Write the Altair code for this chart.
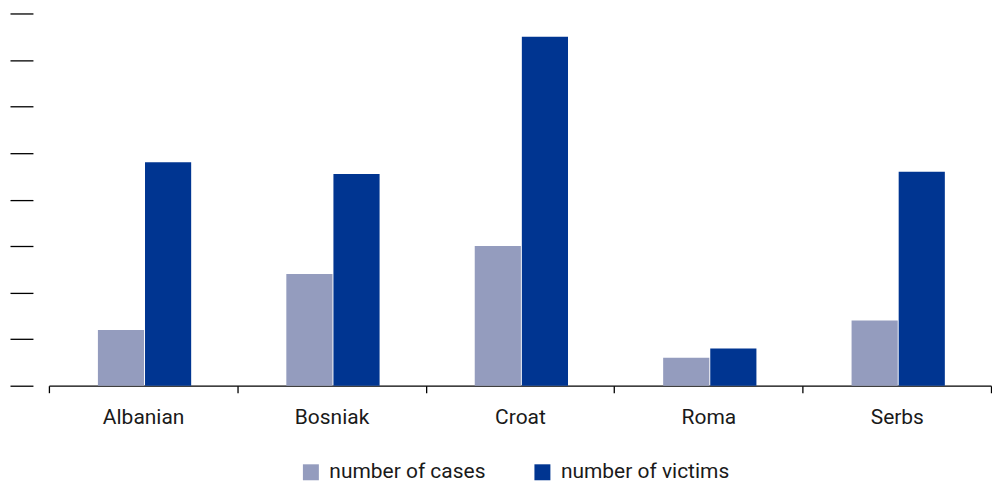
import altair as alt
import pandas as pd

categories = ["Albanian", "Bosniak", "Croat", "Roma", "Serbs"]
series = ["number of cases", "number of victims"]
cases = [12, 24, 30, 6, 14]
victims = [48, 45.5, 75, 8, 46]
y_ticks = [0, 10, 20, 30, 40, 50, 60, 70, 80]

rows = []
for c, a, b in zip(categories, cases, victims):
    rows.append({"group": c, "series": series[0], "value": a})
    rows.append({"group": c, "series": series[1], "value": b})
df = pd.DataFrame(rows)

FONT = "Roboto"
TXT = "#1a1a1a"

chart = alt.Chart(df).mark_bar(width=alt.RelativeBandSize(0.98)).encode(
    x=alt.X("group:N", sort=categories, title=None,
            scale=alt.Scale(paddingInner=0, paddingOuter=0),
            axis=alt.Axis(labelAngle=0, tickBand="extent", tickSize=7, tickWidth=1.3,
                          tickColor="black", domainColor="black", domainWidth=1.3,
                          labelFontSize=21, labelFont=FONT, labelColor=TXT,
                          labelPadding=14, grid=False)),
    xOffset=alt.XOffset("series:N", sort=series,
                        scale=alt.Scale(paddingOuter=1, paddingInner=0)),
    y=alt.Y("value:Q", title=None,
            scale=alt.Scale(domain=[0, 80], nice=False),
            axis=alt.Axis(values=y_ticks, labels=False, domain=False, grid=False,
                          tickSize=23, offset=16, tickColor="black", tickWidth=1.3)),
    color=alt.Color("series:N", sort=series, title=None,
                    scale=alt.Scale(domain=series, range=["#949cbe", "#003591"]),
                    legend=alt.Legend(orient="none", direction="horizontal",
                                      legendX=252, legendY=449,
                                      symbolType="square", symbolSize=256,
                                      symbolStrokeWidth=0, symbolOpacity=1,
                                      labelFontSize=21, labelFont=FONT, labelColor=TXT,
                                      labelLimit=400,
                                      columnPadding=46, labelOffset=8, padding=0)),
).properties(
    width=944, height=373,
    padding={"left": 1, "top": 4, "right": 0, "bottom": 0},
).configure_view(stroke=None)

chart.save("out.html", embed_options={"renderer": "svg", "actions": False})
